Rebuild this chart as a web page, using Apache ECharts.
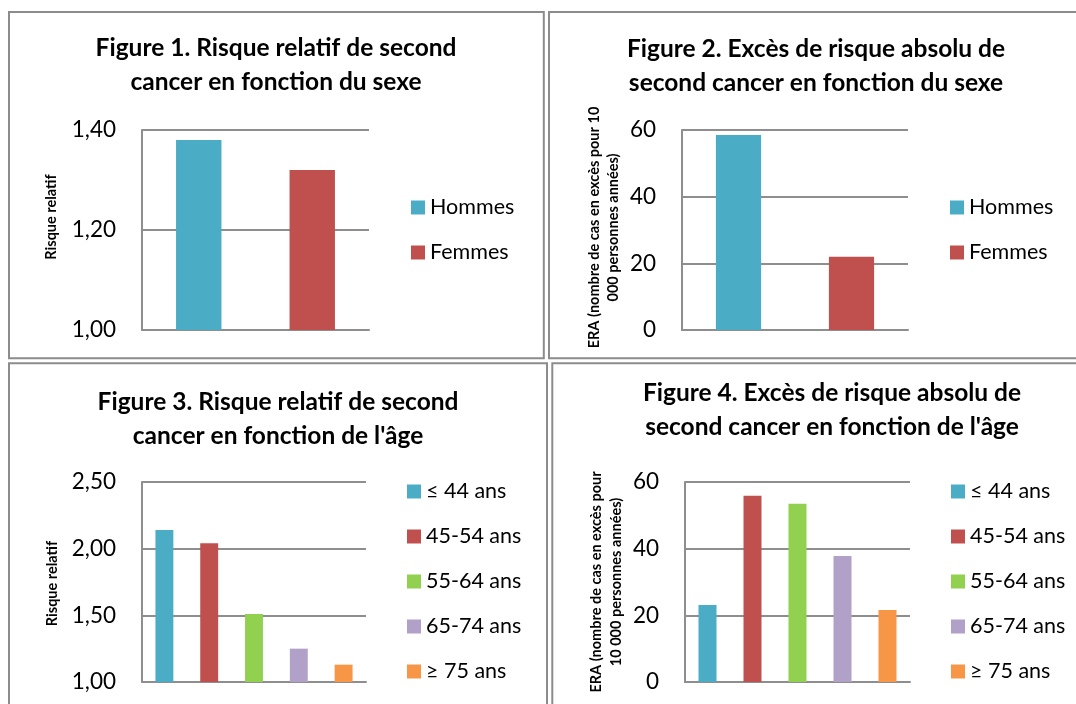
<!DOCTYPE html>
<html>
<head>
<meta charset="utf-8">
<script src="https://cdn.jsdelivr.net/npm/echarts@6/dist/echarts.min.js"></script>
<style>
  html, body { margin: 0; padding: 0; background: #fff; overflow: hidden; }
  #chart { width: 1076px; height: 704px; }
</style>
</head>
<body>
<div id="chart"></div>
<script>
// Second cancer risk by sex and by age
const sexCategories = ['Hommes', 'Femmes'];
const sexRelativeRisk = [1.38, 1.32];
const sexExcessRisk = [58.5, 22];

const ageCategories = ['≤ 44 ans', '45-54 ans', '55-64 ans', '65-74 ans', '≥ 75 ans'];
const ageRelativeRisk = [2.14, 2.04, 1.51, 1.25, 1.13];
const ageExcessRisk = [23.1, 55.9, 53.5, 37.8, 21.6];

const sexColors = ['#4BACC6', '#C0504D'];
const ageColors = ['#4BACC6', '#C0504D', '#92D050', '#B1A0C7', '#F79646'];

const titles = [
  'Figure 1. Risque relatif de second\ncancer en fonction du sexe',
  'Figure 2. Excès de risque absolu de\nsecond cancer en fonction du sexe',
  'Figure 3. Risque relatif de second\ncancer en fonction de l\'âge',
  'Figure 4. Excès de risque absolu de\nsecond cancer en fonction de l\'âge'
];
const yNames = [
  'Risque relatif',
  'ERA (nombre de cas en excès pour 10\n000 personnes années)',
  'Risque relatif',
  'ERA (nombre de cas en excès pour\n10 000 personnes années)'
];

const FONT = 'Lato, Carlito, Calibri, "Open Sans", sans-serif';
const GRID_COLOR = '#8e8e8e';
const FRAME_COLOR = '#8c8c8c';

const panels = [
  { cats: sexCategories, vals: sexRelativeRisk, colors: sexColors, min: 1, max: 1.4, interval: 0.2, dec: 2,
    grid: { left: 142, top: 130, width: 227, height: 200 },
    title: { x: 276, y: 31 }, legend: { x: 411, y: 196.5 }, yName: { x: 51, y: 217, lh: 19 } },
  { cats: sexCategories, vals: sexExcessRisk, colors: sexColors, min: 0, max: 60, interval: 20, dec: 0,
    grid: { left: 682, top: 130, width: 226, height: 200 },
    title: { x: 816, y: 32 }, legend: { x: 950, y: 196.5 }, yName: { x: 603.5, y: 227.5, lh: 19 } },
  { cats: ageCategories, vals: ageRelativeRisk, colors: ageColors, min: 1, max: 2.5, interval: 0.5, dec: 2,
    grid: { left: 142, top: 482, width: 224, height: 200 },
    title: { x: 278, y: 385 }, legend: { x: 407, y: 480.5 }, yName: { x: 52, y: 583.5, lh: 19 } },
  { cats: ageCategories, vals: ageExcessRisk, colors: ageColors, min: 0, max: 60, interval: 20, dec: 0,
    grid: { left: 685, top: 482, width: 225, height: 200 },
    title: { x: 832, y: 376 }, legend: { x: 951, y: 480.5 }, yName: { x: 606, y: 582, lh: 20 } }
];

const option = {
  backgroundColor: '#fff',
  animation: false,
  title: [], grid: [], xAxis: [], yAxis: [], legend: [], series: [],
  graphic: []
};

// panel frames
[
  { x: 9, y: 12, w: 534.8, h: 346.3 },
  { x: 549, y: 12, w: 600, h: 346.3 },
  { x: 9, y: 363.3, w: 538, h: 400 },
  { x: 552.3, y: 363.3, w: 600, h: 400 }
].forEach(f => option.graphic.push({
  type: 'rect', silent: true,
  shape: { x: f.x, y: f.y, width: f.w, height: f.h },
  style: { fill: null, stroke: FRAME_COLOR, lineWidth: 2 }
}));

panels.forEach((p, i) => {
  option.title.push({
    text: titles[i], left: p.title.x, top: p.title.y, textAlign: 'center', padding: 0,
    textStyle: { fontFamily: FONT, fontWeight: 'bold', fontSize: 24.5, lineHeight: 34, color: '#000' }
  });
  option.grid.push(Object.assign({ containLabel: false }, p.grid));
  option.xAxis.push({
    type: 'category', gridIndex: i, data: p.cats,
    axisLine: { show: true, lineStyle: { color: GRID_COLOR, width: 2 } },
    axisTick: { show: false }, axisLabel: { show: false }
  });
  option.yAxis.push({
    type: 'value', gridIndex: i, min: p.min, max: p.max, interval: p.interval,
    axisLine: { show: true, lineStyle: { color: GRID_COLOR, width: 2 } },
    axisTick: { show: false },
    splitLine: { show: true, lineStyle: { color: GRID_COLOR, width: 2 } },
    axisLabel: {
      margin: 26, color: '#000', fontFamily: FONT, fontSize: 22.5,
      formatter: v => v.toFixed(p.dec).replace('.', ',')
    }
  });
  option.legend.push({
    orient: 'vertical', left: p.legend.x, top: p.legend.y, padding: 0,
    itemWidth: 14, itemHeight: 14, itemGap: 23, icon: 'rect',
    data: p.cats.map(c => ({ name: c })),
    textStyle: { fontFamily: FONT, fontSize: 21.5, lineHeight: 22, color: '#000' }
  });
  p.cats.forEach((c, k) => {
    option.series.push({
      type: 'bar', name: c, xAxisIndex: i, yAxisIndex: i,
      barWidth: '40%', barGap: '-100%',
      itemStyle: { color: p.colors[k] },
      data: p.vals.map((v, j) => (j === k ? v : '-'))
    });
  });
  option.graphic.push({
    type: 'text', silent: true, x: p.yName.x, y: p.yName.y, rotation: Math.PI / 2,
    style: {
      text: yNames[i], fill: '#000', align: 'center', verticalAlign: 'middle',
      font: 'bold 14.5px ' + FONT, lineHeight: p.yName.lh
    }
  });
});

const chart = echarts.init(document.getElementById('chart'), null, { renderer: 'canvas' });
chart.setOption(option);
</script>
</body>
</html>
